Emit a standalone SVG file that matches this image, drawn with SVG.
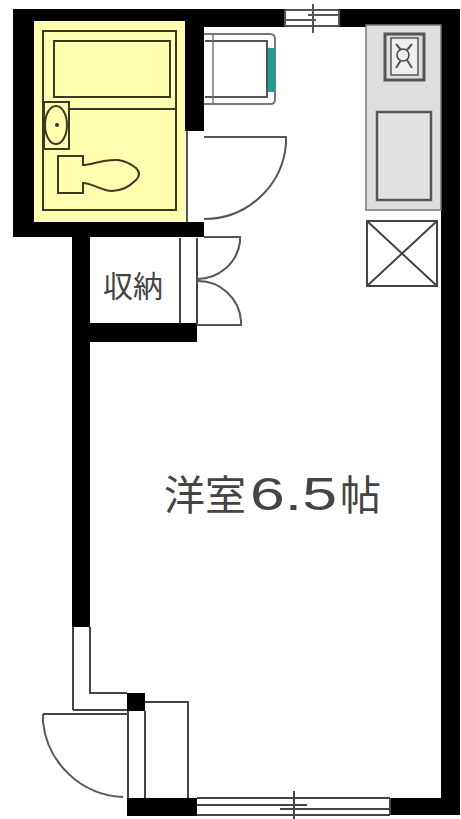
<svg xmlns="http://www.w3.org/2000/svg" width="461" height="819" viewBox="0 0 461 819">
<style>
.w{fill:#000}
.l{fill:none;stroke:#444;stroke-width:2}
.k{fill:none;stroke:#3a3a20;stroke-width:2}
.g{fill:none;stroke:#555;stroke-width:2}
.t{font-family:"Noto Sans CJK JP","Liberation Sans",sans-serif;fill:#444}
</style>
<rect width="461" height="819" fill="#fff"/>
<g id="walls">
<path class="w" d="M13 9H285V27H204V131H185V222H204V237H90V627H72V237H13Z"/>
<path class="w" d="M339 9H460V815H390V798H441V27H339Z"/>
<path class="w" d="M127 798H197V816H127Z"/>
<rect class="w" x="72" y="323" width="125" height="19"/>
<rect class="w" x="127" y="693" width="18" height="18"/>
</g>
<g id="bath">
<rect x="34" y="21" width="151" height="201" fill="#ffffb0"/>
<rect class="k" x="43" y="31" width="133" height="179"/>
<rect class="k" x="54" y="41" width="116" height="56"/>
<path class="k" d="M69 109H176"/>
<rect class="k" x="44" y="102" width="25" height="47"/>
<ellipse class="k" cx="56" cy="125" rx="11" ry="19"/>
<circle cx="57" cy="125" r="2" fill="#333"/>
<path class="k" d="M58 156H83V165C92 165 102 159 118 160C125 161 131 164 136 168C140 172 140 176 136 180C130 186 122 191 112 191C102 191 92 183 83 183V193H58Z"/>
</g>
<g id="bath-door">
<path class="g" d="M187 131V222M204 137H286V144A82 82 0 0 1 204 219"/>
</g>
<g id="washer">
<path d="M204 34H270Q275 34 275 39V100Q275 104 270 104H204" fill="none" stroke="#777" stroke-width="2"/>
<path d="M205 41H267V97H205" fill="none" stroke="#555" stroke-width="2"/>
<path d="M213 34V104" fill="none" stroke="#777" stroke-width="1.500"/>
<rect x="268" y="48" width="7" height="44" fill="#1f9c96"/>
</g>
<g id="top-window">
<path class="g" d="M285 10H339M308 15H339M285 20H316M285 26H339M339 10V26M285 10V26M313 4V33"/>
</g>
<g id="kitchen">
<rect x="366" y="25" width="75" height="185" fill="#dedede" stroke="#777" stroke-width="1.500"/>
<rect x="385" y="34" width="39" height="46" fill="#ddd" stroke="#555" stroke-width="3"/>
<rect x="391" y="38" width="27" height="37" fill="#eee" stroke="#555" stroke-width="1.500"/>
<circle cx="403" cy="55" r="6" fill="none" stroke="#444" stroke-width="1.500"/>
<path class="g" stroke-width="1" d="M396 44L401 50M412 44L407 50M396 68L401 60M412 68L407 60"/>
<rect x="377" y="112" width="54" height="88" fill="#e2e2e2" stroke="#555" stroke-width="2.500"/>
</g>
<g id="fridge">
<rect class="l" x="367" y="221" width="70" height="65"/>
<path class="l" stroke="#555" d="M367 221L437 286M437 221L367 286"/>
</g>
<g id="closet">
<path class="l" d="M180 238V323M197 238V325"/>
<path class="g" d="M204 237H240V242A43 43 0 0 1 197 279"/>
<path class="g" d="M197 325H241V321A43 43 0 0 0 197 281"/>
<text class="t" x="103" y="297" font-size="30">収納</text>
</g>
<g id="entrance">
<path class="l" d="M73 627V710M90 627V693H127M73 710H127M43 714H127M128 711V798M145 711V798M145 702H188V798"/>
<path class="g" d="M43 714V722A84 84 0 0 0 123 797"/>
</g>
<g id="bottom-window">
<path class="l" d="M197 798H390M197 805H307M280 809H390M197 815H390M390 798V815M294 791V819"/>
</g>
<g id="room-label">
<text class="t" x="164" y="510" font-size="41">洋室</text>
<text x="250" y="510" font-size="46" font-family="Liberation Sans,sans-serif" fill="#444" textLength="87" lengthAdjust="spacingAndGlyphs">6.5</text>
<text class="t" x="340" y="510" font-size="41">帖</text>
</g>
</svg>
